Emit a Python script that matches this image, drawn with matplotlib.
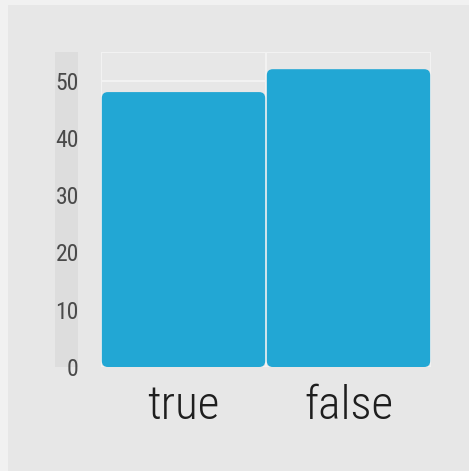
import matplotlib
matplotlib.use("Agg")
import matplotlib.pyplot as plt
from matplotlib import font_manager
from matplotlib.patches import FancyBboxPatch, Rectangle

categories = ["true", "false"]
values = [48, 52]
y_ticks = [0, 10, 20, 30, 40, 50]

W, H = 469, 471
fig = plt.figure(figsize=(W / 100, H / 100), dpi=100)
fig.patch.set_facecolor("#f1f1f1")

# main canvas area (slightly darker than the outer margin)
fig.patches.append(Rectangle((8 / W, 0), 1, 1 - 5 / H, transform=fig.transFigure,
                             facecolor="#e7e7e7", edgecolor="none", zorder=-5))

ax = fig.add_axes([101 / W, 1 - 367 / H, 330 / W, 315 / H])
ax.set_facecolor("#e7e7e7")
ax.set_xlim(0, 2)
ax.set_ylim(0, 55)

# light grid
for y in y_ticks + [55]:
    ax.axhline(y, color="#f3f3f3", lw=1.4, zorder=1)
ax.axvline(1, color="#f3f3f3", lw=1.4, zorder=1)
for s in ax.spines.values():
    s.set_visible(False)
ax.plot([0, 0], [0, 55], color="#f3f3f3", lw=1.4, zorder=1)
ax.plot([2, 2], [0, 55], color="#f3f3f3", lw=1.4, zorder=1)

positions = [0.5, 1.5]
bars = ax.bar(positions, values, width=0.99, color="#22a7d4", zorder=2)

# swap the plain rectangles for rounded ones
px_x = 330 / 2
px_y = 315 / 55
for b in bars:
    x0, y0, w, h = b.get_x(), b.get_y(), b.get_width(), b.get_height()
    b.set_visible(False)
    r = 6 / px_x
    p = FancyBboxPatch((x0, y0), w, h,
                       boxstyle=f"round,pad=0,rounding_size={r}",
                       mutation_aspect=px_x / px_y,
                       facecolor="#22a7d4", edgecolor="none", zorder=3)
    ax.add_patch(p)

# shaded band behind the y tick labels
ax.add_patch(Rectangle((-46 / 330, 0), 23 / 330, 1, transform=ax.transAxes,
                       facecolor="#dddddd", edgecolor="none", clip_on=False, zorder=0))

installed = {f.name for f in font_manager.fontManager.ttflist}
fam = [f for f in ["Roboto Condensed", "Liberation Sans Narrow", "Roboto", "DejaVu Sans"]
       if f in installed]

ax.set_yticks(y_ticks)
ax.set_yticklabels([str(t) for t in y_ticks], family=fam, fontsize=17,
                   color="#4a4a4a", fontweight="normal")
ax.set_xticks(positions)
ax.set_xticklabels(categories, family=fam, fontsize=34, color="#1e1e1e",
                   fontweight="light")
ax.tick_params(axis="y", length=0, pad=16)
ax.tick_params(axis="x", length=0, pad=12)

fig.savefig("out.png", dpi=100, facecolor=fig.get_facecolor())
